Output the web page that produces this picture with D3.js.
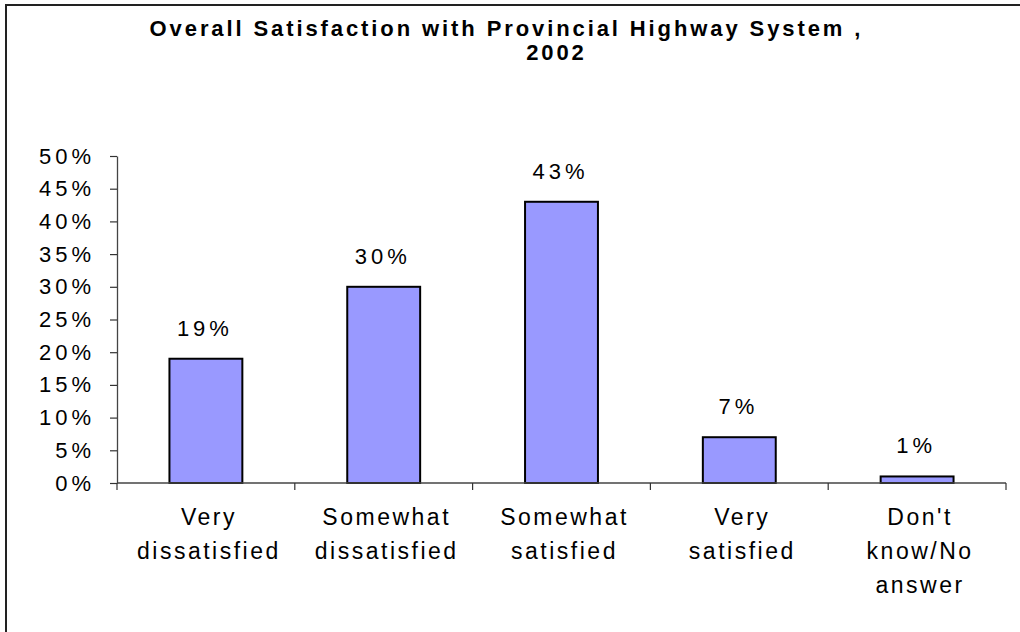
<!DOCTYPE html>
<html>
<head>
<meta charset="utf-8">
<script src="https://cdn.jsdelivr.net/npm/d3@7"></script>
<style>
  html, body { margin: 0; padding: 0; background: #fff; }
  svg { display: block; font-family: "Liberation Sans", Arial, sans-serif; }
</style>
</head>
<body>
<svg id="chart" width="1020" height="632"></svg>
<script>
// Survey responses (percent of respondents)
const categories = [
  "Very\ndissatisfied",
  "Somewhat\ndissatisfied",
  "Somewhat\nsatisfied",
  "Very\nsatisfied",
  "Don't\nknow/No\nanswer"
];
const values = [19, 30, 43, 7, 1];
const yTicks = [0, 5, 10, 15, 20, 25, 30, 35, 40, 45, 50];
const titleLines = ["Overall Satisfaction with Provincial Highway System ,", "2002"];

const svg = d3.select("#chart");

// outer frame
svg.append("rect")
  .attr("x", 6).attr("y", 5)
  .attr("width", 1030).attr("height", 650)
  .attr("fill", "none")
  .attr("stroke", "#222")
  .attr("stroke-width", 2);

const plot = { left: 117, right: 1006, top: 156, bottom: 483 };

const x = d3.scaleBand()
  .domain(categories)
  .range([plot.left, plot.right])
  .padding(0);

const y = d3.scaleLinear()
  .domain([0, 50])
  .range([plot.bottom, plot.top]);

// title
const titleSpacing = 2.9;
const title = svg.append("g")
  .attr("font-weight", "bold")
  .attr("font-size", 22)
  .attr("letter-spacing", titleSpacing)
  .attr("text-anchor", "middle")
  .attr("fill", "#000");
title.append("text").attr("x", 505 + titleSpacing / 2).attr("y", 36).text(titleLines[0]);
title.append("text").attr("x", 555 + titleSpacing / 2).attr("y", 60).text(titleLines[1]);

// y axis
const tickSpacing = 4;
const yAxis = svg.append("g")
  .attr("transform", `translate(${plot.left},0)`)
  .call(d3.axisLeft(y)
    .tickValues(yTicks)
    .tickFormat(d => d + "%")
    .tickSize(7)
    .tickPadding(15)
    .tickSizeOuter(0));
yAxis.select(".domain").attr("stroke", "#444").attr("stroke-width", 1.3);
yAxis.selectAll(".tick line").attr("stroke", "#333").attr("stroke-width", 1.2);
yAxis.selectAll(".tick text")
  .attr("font-size", 22)
  .attr("letter-spacing", tickSpacing)
  .attr("fill", "#000")
  .attr("font-family", "Liberation Sans, Arial, sans-serif");

// bars
const barW = x.bandwidth() * 0.41;
svg.append("g")
  .selectAll("rect")
  .data(values)
  .join("rect")
  .attr("x", (d, i) => x(categories[i]) + (x.bandwidth() - barW) / 2)
  .attr("y", d => y(d))
  .attr("width", barW)
  .attr("height", d => y(0) - y(d))
  .attr("fill", "#9999FF")
  .attr("stroke", "#000")
  .attr("stroke-width", 2);

// value labels
svg.append("g")
  .attr("font-size", 22)
  .attr("letter-spacing", tickSpacing)
  .attr("text-anchor", "middle")
  .selectAll("text")
  .data(values)
  .join("text")
  .attr("x", (d, i) => x(categories[i]) + x.bandwidth() / 2 - 1)
  .attr("y", d => y(d) - 23)
  .text(d => d + "%");

// x axis: baseline with ticks at category boundaries
const xg = svg.append("g");
xg.append("line")
  .attr("x1", plot.left).attr("x2", plot.right)
  .attr("y1", y(0)).attr("y2", y(0))
  .attr("stroke", "#444").attr("stroke-width", 1.5);
const boundaries = categories.map(c => x(c)).concat([x.range()[1]]);
xg.selectAll("line.tick")
  .data(boundaries)
  .join("line")
  .attr("class", "tick")
  .attr("x1", d => d).attr("x2", d => d)
  .attr("y1", y(0)).attr("y2", y(0) + 7)
  .attr("stroke", "#333").attr("stroke-width", 1.2);

// category labels
const labels = xg.selectAll("text")
  .data(categories)
  .join("text")
  .attr("text-anchor", "middle")
  .attr("font-size", 23)
  .attr("letter-spacing", 2.5)
  .attr("transform", d => `translate(${x(d) + x.bandwidth() / 2 + 3},0)`);
labels.selectAll("tspan")
  .data(d => d.split("\n"))
  .join("tspan")
  .attr("x", 0)
  .attr("y", (d, i) => 525 + i * 34)
  .text(d => d);
</script>
</body>
</html>
